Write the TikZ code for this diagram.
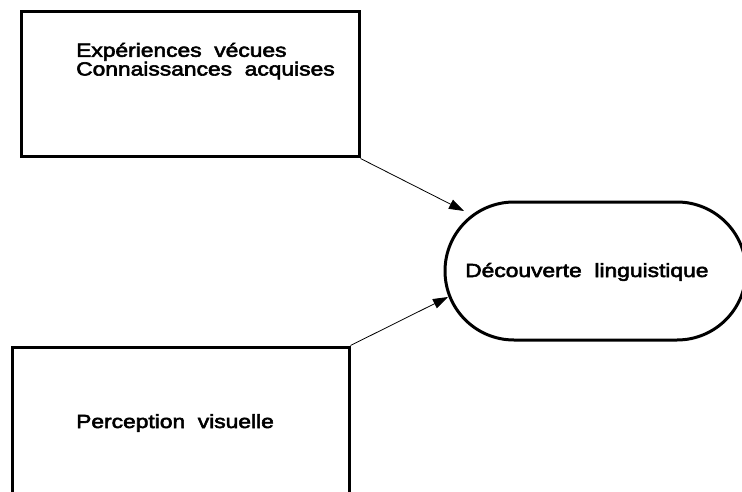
\documentclass[tikz,border=0pt]{standalone}
\usepackage{fontspec}
\newfontfamily\diagfont[FakeStretch=1.2, FakeBold=3]{Liberation Sans}
\usetikzlibrary{arrows.meta}
\tikzset{
  box/.style={draw, line width=3pt, rectangle, inner sep=0pt},
  goal/.style={draw, line width=3pt, rectangle, rounded corners=69pt, inner sep=0pt},
  label/.style={inner sep=0pt, font=\diagfont\fontsize{19pt}{17.5pt}\selectfont},
  link/.style={line width=0.8pt, -{Triangle[length=15pt,width=10pt]}},
}
\begin{document}
\begin{tikzpicture}[x=1pt,y=-1pt]
\useasboundingbox (0,0) rectangle (742,492);
% source boxes
\node[box, minimum width=338pt, minimum height=145pt] (exp) at (190,84.5) {};
\node[box, minimum width=337pt, minimum height=160pt] (perc) at (180.5,427) {};
% target stadium
\node[goal, minimum width=301pt, minimum height=138pt] (dec) at (595.5,271) {};
% texts
\node[label, anchor=base west, align=left] (exptext) at (76,75.5)
  {Expériences~ vécues\\Connaissances~ acquises};
\node[label, anchor=base west] (perctext) at (76,428) {Perception~ visuelle};
\node[label, anchor=base west] (dectext) at (465,277) {Découverte~ linguistique};
% arrow tips
\coordinate (tipA) at (464,211);
\coordinate (tipB) at (448,297);
\draw[link] (exp.south east) -- (tipA);
\draw[link] (perc.north east) -- (tipB);
\end{tikzpicture}
\end{document}
